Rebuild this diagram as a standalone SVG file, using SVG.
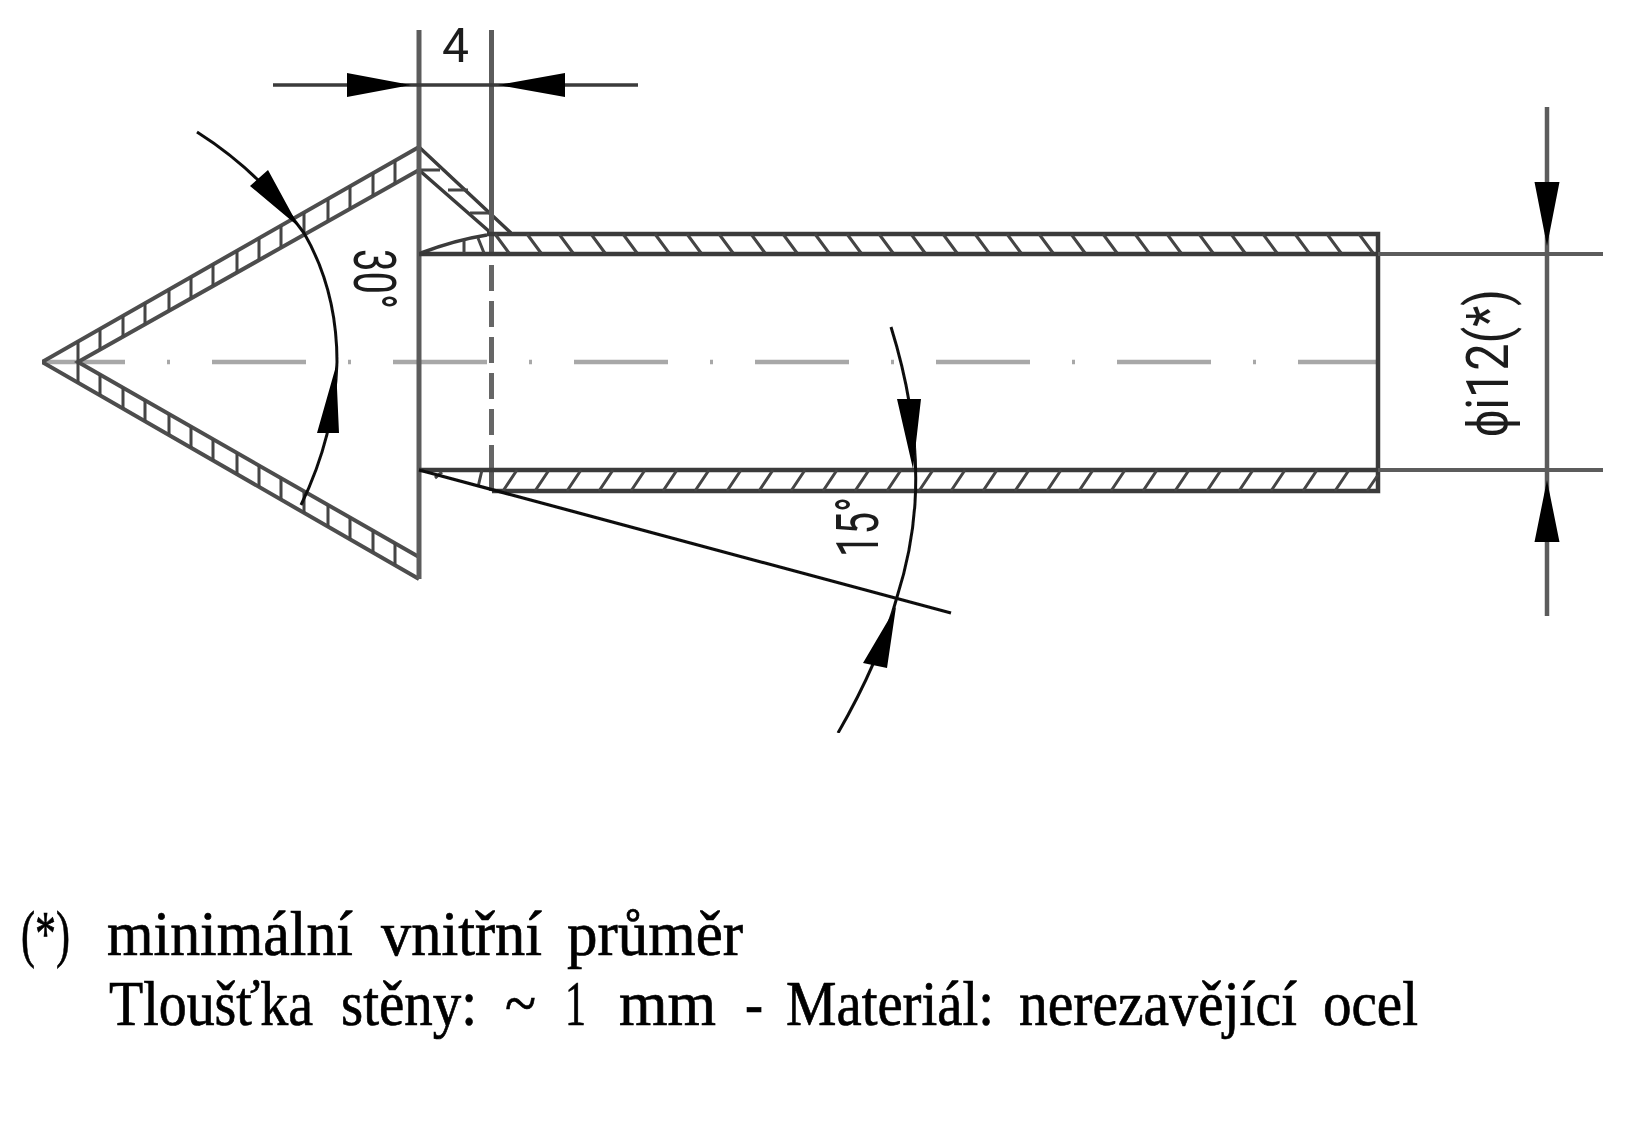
<svg xmlns="http://www.w3.org/2000/svg" width="1627" height="1127" viewBox="0 0 1627 1127">
<style>
.ln{fill:none;stroke:#3a3a3a;stroke-width:3.5}
.cn{fill:none;stroke:#4d4d4d;stroke-width:4}
.th{fill:none;stroke:#111;stroke-width:3}
.hat{fill:none;stroke:#444;stroke-width:3}
.ctr{fill:none;stroke:#a8a8a8;stroke-width:4.5;stroke-dasharray:94 42 3 42;stroke-dashoffset:11}
.dsh{fill:none;stroke:#666;stroke-width:5;stroke-dasharray:26 10}
.gr{fill:none;stroke:#5c5c5c;stroke-width:5}
.ah{fill:#000;stroke:none}
.dim{font-family:"Roboto","Liberation Sans",Arial,sans-serif;font-size:60px;fill:#1c1c1c}
.note{font-family:"Liberation Serif","Times New Roman",serif;font-size:64px;fill:#000;stroke:#000;stroke-width:0.7}
</style>
<defs><filter id="soft" x="0" y="0" width="100%" height="100%"><feGaussianBlur stdDeviation="0.7"/></filter></defs>
<rect width="1627" height="1127" fill="#fff"/>
<g id="drawing" filter="url(#soft)">
<g id="centerline"><path class="ctr" d="M42 362H1378"/></g>
<g id="cone">
<path class="cn" d="M419 147L42 362L419 579M419 170L78 362L419 557"/>
<path class="hat" d="M78 341.500V382.700M100 329V349.600M100 374.600V395.400M123 316V336.700M123 387.700V408.600M145 303V324.300M145 400V421M169 289V311M169 414V435M191 277V298.400M191 426.600V448M213 264V286M213 439V461M237 251V272.500M237 453V474M259 238V260M259 465.600V487M281 226V247.600M281 478V499.600M304 213V234.800M304 491V513M328 199V221M328 505V527M350 186V209M350 517.600V539M373 173V196M373 530.700V552M395 160V183.500M395 543V565"/>
</g>
<g id="tip-back">
<path class="ln" d="M419 147L511 233M419 170L491 233"/>
<path class="hat" d="M419 170H440M448 190H468M470 213H491"/>
<path class="gr" d="M419 30V579"/>
<path class="gr" d="M491.500 30V253"/>
<path class="dsh" d="M491.500 265V470"/>
<path class="gr" d="M491.500 470V491"/>
</g>
<g id="tube">
<path class="ln" style="stroke-width:4.500" d="M487 234H1378V491H492M419 254H1378M419 470H1378"/>
<path class="ln" d="M421 253Q455 240 487 235"/>
<path class="hat" d="M495 234L509 253M527 234L541 253M559 234L573 253M591 234L605 253M623 234L637 253M655 234L669 253M687 234L701 253M719 234L733 253M751 234L765 253M783 234L797 253M815 234L829 253M847 234L861 253M879 234L893 253M911 234L925 253M943 234L957 253M975 234L989 253M1007 234L1021 253M1039 234L1053 253M1071 234L1085 253M1103 234L1117 253M1135 234L1149 253M1167 234L1181 253M1199 234L1213 253M1231 234L1245 253M1263 234L1277 253M1295 234L1309 253M1327 234L1341 253M1359 234L1373 253"/>
<path class="hat" d="M503 491L517 470M535 491L549 470M567 491L581 470M599 491L613 470M631 491L645 470M663 491L677 470M695 491L709 470M727 491L741 470M759 491L773 470M791 491L805 470M823 491L837 470M855 491L869 470M887 491L901 470M919 491L933 470M951 491L965 470M983 491L997 470M1015 491L1029 470M1047 491L1061 470M1079 491L1093 470M1111 491L1125 470M1143 491L1157 470M1175 491L1189 470M1207 491L1221 470M1239 491L1253 470M1271 491L1285 470M1303 491L1317 470M1335 491L1349 470M1367 491L1378 475"/>
<path class="hat" d="M464 240V253M478 238L484 253M442 472L435 478M482 470L478 487"/>
</g>
<g id="connectors">
<path class="ln" d="M273 85H638"/>
<path class="ah" d="M411 85L347 73V97ZM498 85L565 73V97Z"/>
<path class="gr" style="stroke-width:4" d="M1378 254H1603M1378 470H1603"/>
<path class="gr" style="stroke-width:4.500" d="M1547 107V616"/>
<path class="ah" d="M1547 246L1534.500 182H1559.500ZM1547 480L1534.500 542H1559.500Z"/>
<path class="th" d="M197 132Q260 172 304 233Q337 290 337 362Q335 435 301 505"/>
<path class="ah" d="M299 227L250 186L268 170ZM336 366L317 433H339Z"/>
<path class="th" d="M891 327Q920 420 915 503Q912 550 897 597Q880 660 838 733"/>
<path class="ah" d="M913 469L897 399H921ZM896 607L863 663L887 668Z"/>
<path class="th" style="stroke-width:3.200" d="M419 470L951 613"/>
</g>
<g id="dim-4"><text class="dim" x="442" y="62" style="font-size:48px">4</text></g>
<g id="dim-30"><text class="dim" transform="translate(354 249) rotate(90)" textLength="60" lengthAdjust="spacingAndGlyphs">30°</text></g>
<g id="dim-15"><text class="dim" transform="translate(878 557) rotate(-90)" textLength="60" lengthAdjust="spacingAndGlyphs">15°</text></g>
<g id="dim-12"><text class="dim" transform="translate(1508 437) rotate(-90)" textLength="148" lengthAdjust="spacingAndGlyphs">ϕi12(*)</text></g>
</g>
<g id="notes">
<text class="note" y="955"><tspan x="21" textLength="49" lengthAdjust="spacingAndGlyphs">(*)</tspan> <tspan x="107" textLength="246" lengthAdjust="spacingAndGlyphs">minimální</tspan> <tspan x="381" textLength="161" lengthAdjust="spacingAndGlyphs">vnitřní</tspan> <tspan x="567" textLength="176" lengthAdjust="spacingAndGlyphs">průměr</tspan></text>
<text class="note" y="1025"><tspan x="109" textLength="204" lengthAdjust="spacingAndGlyphs">Tloušťka</tspan> <tspan x="341" textLength="136" lengthAdjust="spacingAndGlyphs">stěny:</tspan> <tspan x="505" textLength="31" lengthAdjust="spacingAndGlyphs">~</tspan> <tspan x="565" textLength="21" lengthAdjust="spacingAndGlyphs">1</tspan> <tspan x="619" textLength="97" lengthAdjust="spacingAndGlyphs">mm</tspan> <tspan x="745" textLength="18" lengthAdjust="spacingAndGlyphs">-</tspan> <tspan x="786" textLength="208" lengthAdjust="spacingAndGlyphs">Materiál:</tspan> <tspan x="1019" textLength="278" lengthAdjust="spacingAndGlyphs">nerezavějící</tspan> <tspan x="1323" textLength="95" lengthAdjust="spacingAndGlyphs">ocel</tspan></text>
</g>
</svg>
